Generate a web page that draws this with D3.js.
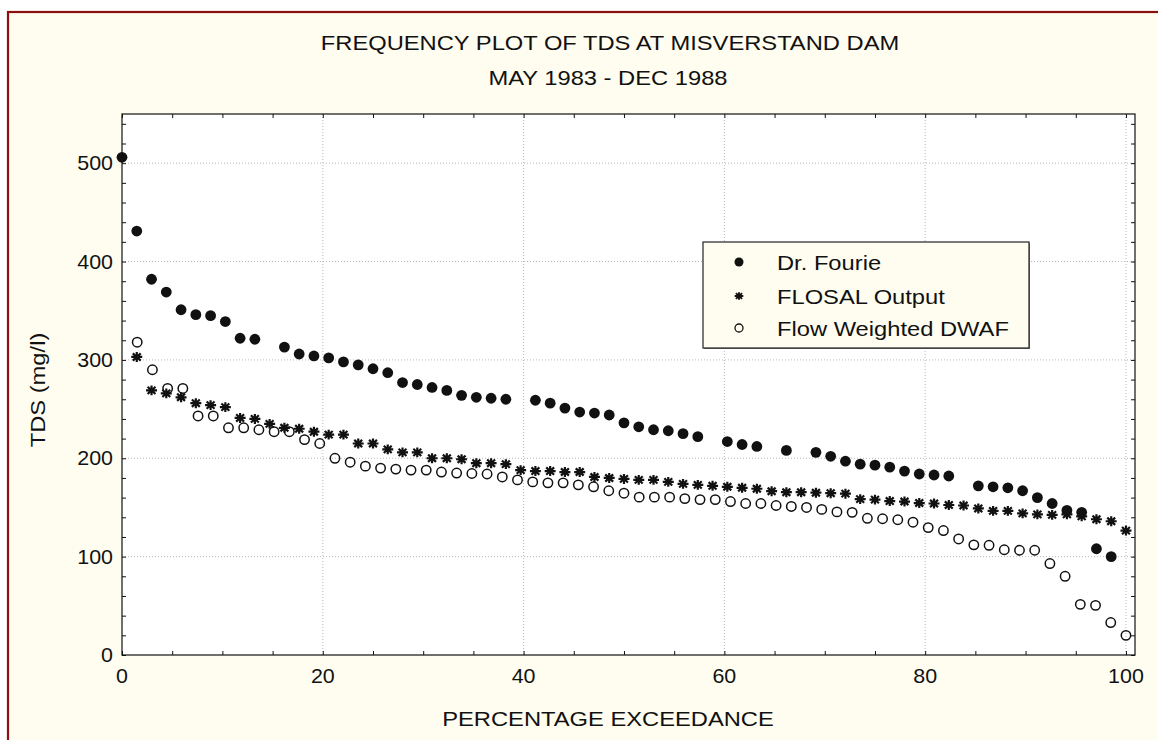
<!DOCTYPE html>
<html>
<head>
<meta charset="utf-8">
<script src="https://cdn.jsdelivr.net/npm/d3@7"></script>
<style>
  body { margin: 0; background: #fff; }
  svg { display: block; font-family: "Liberation Sans", Arial, sans-serif; }
</style>
</head>
<body>
<svg></svg>
<script>
// TDS (mg/l), one value per rank; null = no marker there
// Dr. Fourie and FLOSAL share 69 ranks, DWAF has 67
const fourie = [506, 431, 382, 369, 351, 346, 345, 339, 322, 321, null, 313, 306, 304, 302, 298, 295, 291, 287, 277,
  275, 272, 269, 264, 262, 261, 260, null, 259, 256, 251, 247, 246, 244, 236, 232, 229, 228, 225, 222,
  null, 217, 214, 212, null, 208, null, 206, 202, 197, 194, 193, 191, 187, 184, 183, 182, null, 172, 171,
  170, 167, 160, 154, 147, 145, 108, 100, null];
const flosal = [null, 303, 269, 266, 262, 256, 254, 252, 241, 240, 235, 231, 230, 227, 224, 224, 215, 215, 209, 206,
  206, 200, 200, 199, 195, 195, 194, 188, 187, 187, 186, 186, 181, 180, 179, 178, 178, 176, 174, 173,
  172, 171, 170, 169, 166.5, 165.5, 165.5, 165, 164.5, 164, 158.5, 158, 156.5, 156, 154.5, 154, 152.5, 152, 149, 146.5,
  146.5, 144, 143, 142.5, 143, 141, 138, 136, 126.5];
const dwaf = [null, 318, 290, 271, 271, 243, 243, 231, 231, 229, 227, 227, 219, 215, 200, 196, 192, 190, 189, 188,
  188, 186, 185, 184.5, 184, 181, 178, 176, 175, 175, 173, 171, 167, 164.5, 160.5, 160.5, 160.5, 159, 158, 158,
  156, 154, 154, 152, 151, 150, 148, 145.5, 145, 139, 138.5, 137.5, 135, 129.5, 126.5, 118, 112, 111.5, 107, 106.5,
  106.5, 93, 80, 51.5, 50.5, 33, 20];

const xMajor = [0, 20, 40, 60, 80, 100];
const xMinor = d3.range(0, 101, 5);
const yMajor = [0, 100, 200, 300, 400, 500];
const yMinor = d3.range(0, 551, 20);
const legendNames = ["Dr. Fourie", "FLOSAL Output", "Flow Weighted DWAF"];

document.addEventListener("DOMContentLoaded", () => {
  const width = 1158;
  const height = 740;
  // plot frame
  const left = 122, right = 1135, top = 114, bottom = 655;
  const ink = "#111";
  const stretch = 1.13; // lettering in the reference is a little wide

  const svg = d3.select("svg")
    .attr("width", width)
    .attr("height", height);

  // cream page with the dark red edge
  svg.append("rect")
    .attr("x", 8).attr("y", 12)
    .attr("width", width + 20).attr("height", height + 20)
    .attr("fill", "#fffdf0")
    .attr("stroke", "#8c1010")
    .attr("stroke-width", 2.2);

  const x = d3.scaleLinear().domain([0, 100.9]).range([left, right]);
  const y = d3.scaleLinear().domain([0, 550]).range([bottom, top]);

  function label(sel, px, py, str, anchor, size, sx) {
    return sel.append("text")
      .attr("transform", `translate(${px},${py}) scale(${sx || stretch},1)`)
      .attr("text-anchor", anchor)
      .style("font-size", size + "px")
      .attr("fill", ink)
      .text(str);
  }

  svg.append("rect")
    .attr("x", left).attr("y", top)
    .attr("width", right - left).attr("height", bottom - top)
    .attr("fill", "#fff");

  // dotted grid at the major ticks
  const grid = svg.append("g")
    .attr("stroke", "#b8b8b8")
    .attr("stroke-width", 1)
    .attr("stroke-dasharray", "1,2");
  grid.selectAll(".gx")
    .data(xMajor.filter(d => d > 0))
    .enter().append("line")
    .attr("x1", d => x(d)).attr("x2", d => x(d))
    .attr("y1", top).attr("y2", bottom);
  grid.selectAll(".gy")
    .data(yMajor.filter(d => d > 0))
    .enter().append("line")
    .attr("x1", left).attr("x2", right)
    .attr("y1", d => y(d)).attr("y2", d => y(d));

  // inward ticks on all four sides, labels are drawn separately
  const axes = [
    [d3.axisBottom(x).tickValues(xMinor), `translate(0,${bottom})`],
    [d3.axisTop(x).tickValues(xMinor), `translate(0,${top})`],
    [d3.axisLeft(y).tickValues(yMinor), `translate(${left},0)`],
    [d3.axisRight(y).tickValues(yMinor), `translate(${right},0)`]
  ];
  axes.forEach(([axis, tr]) => {
    const g = svg.append("g")
      .attr("transform", tr)
      .call(axis.tickSizeInner(-4).tickSizeOuter(0).tickFormat(""));
    g.select(".domain").remove();
    g.selectAll("line").attr("stroke", ink);
  });

  svg.append("rect")
    .attr("x", left).attr("y", top)
    .attr("width", right - left).attr("height", bottom - top)
    .attr("fill", "none")
    .attr("stroke", ink)
    .attr("stroke-width", 1.2);

  // tick labels
  xMajor.forEach(d => label(svg, x(d), 683, d, "middle", 21, 1.02));
  yMajor.forEach(d => label(svg, 113, y(d) + 7, d, "end", 21, 1.02));

  // titles
  label(svg, 610, 50, "FREQUENCY PLOT OF TDS AT MISVERSTAND DAM", "middle", 21);
  label(svg, 608, 85, "MAY 1983 - DEC 1988", "middle", 21);
  label(svg, 608, 726, "PERCENTAGE EXCEEDANCE", "middle", 21);
  svg.append("text")
    .attr("transform", `translate(45,390) rotate(-90) scale(${stretch},1)`)
    .attr("text-anchor", "middle")
    .style("font-size", "21px")
    .attr("fill", ink)
    .text("TDS (mg/l)");

  // exceedance % from the rank
  const toPoints = arr => arr
    .map((v, i) => ({ p: i * 100 / (arr.length - 1), v: v }))
    .filter(d => d.v !== null);

  const star = s => `M${-s},0H${s}M0,${-s * 0.9}V${s * 0.9}M${-s * 0.72},${-s * 0.66}L${s * 0.72},${s * 0.66}M${-s * 0.72},${s * 0.66}L${s * 0.72},${-s * 0.66}`;

  svg.append("g").selectAll("circle")
    .data(toPoints(dwaf))
    .enter().append("circle")
    .attr("cx", d => x(d.p)).attr("cy", d => y(d.v))
    .attr("r", 4.7)
    .attr("fill", "none")
    .attr("stroke", ink)
    .attr("stroke-width", 1.5);

  svg.append("g").selectAll("path")
    .data(toPoints(flosal))
    .enter().append("path")
    .attr("transform", d => `translate(${x(d.p)},${y(d.v)})`)
    .attr("d", star(5.5))
    .attr("stroke", ink)
    .attr("stroke-width", 2.2);

  svg.append("g").selectAll("circle")
    .data(toPoints(fourie))
    .enter().append("circle")
    .attr("cx", d => x(d.p)).attr("cy", d => y(d.v))
    .attr("r", 5.4)
    .attr("fill", ink);

  // legend, with the faint shadow edge of the original
  const lg = svg.append("g");
  lg.append("rect")
    .attr("x", 704).attr("y", 243)
    .attr("width", 326).attr("height", 106)
    .attr("fill", "#777");
  lg.append("rect")
    .attr("x", 703).attr("y", 242)
    .attr("width", 326).attr("height", 106)
    .attr("fill", "#fffdf0")
    .attr("stroke", "#222")
    .attr("stroke-width", 1.2);
  const rows = [262, 296, 328];
  lg.append("circle").attr("cx", 739).attr("cy", rows[0]).attr("r", 4.5).attr("fill", ink);
  lg.append("path").attr("transform", `translate(739,${rows[1]})`).attr("d", star(4.3))
    .attr("stroke", ink).attr("stroke-width", 1.9);
  lg.append("circle").attr("cx", 739).attr("cy", rows[2]).attr("r", 4)
    .attr("fill", "none").attr("stroke", ink).attr("stroke-width", 1.3);
  legendNames.forEach((name, i) => label(lg, 777, rows[i] + 7.5, name, "start", 21));
});
</script>
</body>
</html>
